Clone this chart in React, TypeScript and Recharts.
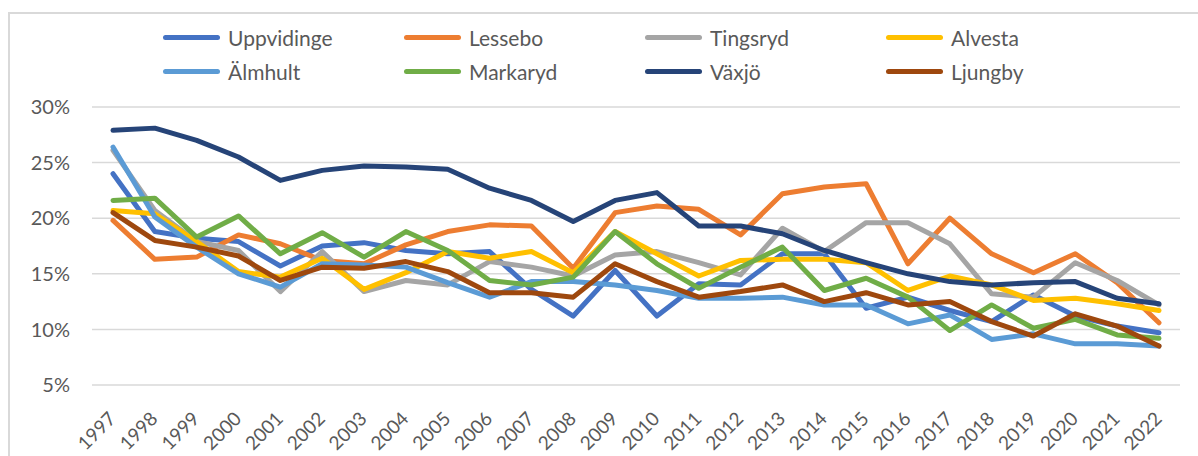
import * as React from "react"
import { LineChart, Line, XAxis, YAxis, CartesianGrid } from "recharts"

// --- data (andel i procent) ---
const years = [
  "1997", "1998", "1999", "2000", "2001", "2002", "2003", "2004", "2005", "2006", "2007", "2008", "2009",
  "2010", "2011", "2012", "2013", "2014", "2015", "2016", "2017", "2018", "2019", "2020", "2021", "2022",
]
const uppvidinge = [24.0, 18.8, 18.2, 17.9, 15.7, 17.5, 17.8, 17.1, 16.8, 17.0, 13.6, 11.2, 15.3, 11.2, 14.1, 14.0, 16.8, 16.8, 11.9, 12.9, 11.7, 10.7, 13.1, 11.2, 10.3, 9.7]
const lessebo = [19.8, 16.3, 16.5, 18.5, 17.7, 16.2, 15.9, 17.6, 18.8, 19.4, 19.3, 15.5, 20.5, 21.1, 20.8, 18.5, 22.2, 22.8, 23.1, 15.9, 20.0, 16.8, 15.1, 16.8, 14.2, 10.6]
const tingsryd = [26.1, 20.7, 17.9, 17.1, 13.4, 17.0, 13.4, 14.4, 14.0, 16.1, 15.6, 14.8, 16.7, 17.0, 16.0, 14.9, 19.1, 17.0, 19.6, 19.6, 17.7, 13.2, 12.9, 16.0, 14.4, 12.2]
const alvesta = [20.7, 20.4, 17.9, 15.2, 14.7, 16.4, 13.6, 15.1, 17.0, 16.4, 17.0, 15.1, 18.8, 16.8, 14.8, 16.2, 16.3, 16.3, 16.0, 13.5, 14.8, 14.0, 12.6, 12.8, 12.3, 11.7]
const almhult = [26.4, 20.1, 17.4, 15.0, 13.8, 15.9, 15.8, 15.6, 14.2, 12.9, 14.3, 14.3, 14.0, 13.5, 12.8, 12.8, 12.9, 12.2, 12.2, 10.5, 11.3, 9.1, 9.6, 8.7, 8.7, 8.5]
const markaryd = [21.6, 21.8, 18.3, 20.2, 16.8, 18.7, 16.5, 18.8, 17.1, 14.4, 14.0, 14.7, 18.8, 15.9, 13.7, 15.6, 17.4, 13.5, 14.6, 12.9, 9.9, 12.2, 10.1, 10.9, 9.5, 9.2]
const vaxjo = [27.9, 28.1, 27.0, 25.5, 23.4, 24.3, 24.7, 24.6, 24.4, 22.7, 21.6, 19.7, 21.6, 22.3, 19.3, 19.3, 18.6, 17.1, 16.0, 15.0, 14.3, 14.0, 14.2, 14.3, 12.8, 12.3]
const ljungby = [20.5, 18.0, 17.4, 16.6, 14.4, 15.6, 15.5, 16.1, 15.2, 13.3, 13.3, 12.9, 15.9, 14.3, 12.9, 13.4, 14.0, 12.5, 13.3, 12.2, 12.5, 10.7, 9.4, 11.4, 10.3, 8.5]
const yTicks = [5, 10, 15, 20, 25, 30]

const FONT = "Lato, 'Noto Sans', sans-serif"
const TEXT = "#595959"

const SERIES = [
  { key: "Uppvidinge", values: uppvidinge, color: "#4472C4" },
  { key: "Lessebo", values: lessebo, color: "#ED7D31" },
  { key: "Tingsryd", values: tingsryd, color: "#A5A5A5" },
  { key: "Alvesta", values: alvesta, color: "#FFC000" },
  { key: "Älmhult", values: almhult, color: "#5B9BD5" },
  { key: "Markaryd", values: markaryd, color: "#70AD47" },
  { key: "Växjö", values: vaxjo, color: "#264478" },
  { key: "Ljungby", values: ljungby, color: "#9E480E" },
]

const rows = years.map((year, i) => {
  const row: Record<string, any> = { year }
  SERIES.forEach((s) => (row[s.key] = s.values[i]))
  return row
})

// legend drawn as plain html on top of the chart, two rows of four
const LegendBox = () => (
  <div
    style={{
      position: "absolute",
      left: 163,
      top: 25,
      display: "grid",
      gridTemplateColumns: "repeat(4, 241px)",
      rowGap: 10,
      fontFamily: FONT,
    }}
  >
    {SERIES.map((s) => (
      <div key={s.key} style={{ display: "flex", alignItems: "center", height: 24 }}>
        <span style={{ display: "inline-block", width: 57, height: 5, borderRadius: 3, background: s.color }} />
        <span style={{ marginLeft: 8, fontSize: 21, color: TEXT }}>{s.key}</span>
      </div>
    ))}
  </div>
)

const YearTick = (props: any) => {
  const { x, y, payload } = props
  return (
    <text
      x={x + 4}
      y={y + 27}
      transform={`rotate(-45, ${x + 4}, ${y + 27})`}
      textAnchor="end"
      fill={TEXT}
      fontSize={19}
      fontFamily={FONT}
    >
      {payload.value}
    </text>
  )
}

export default function App() {
  return (
    <div style={{ position: "absolute", left: 0, top: 0, width: 1198, height: 456, background: "#fff", overflow: "hidden" }}>
      <div style={{ position: "absolute", left: 8, top: 12, width: 1300, height: 442, border: "2px solid #d9d9d9" }} />
      <div style={{ position: "absolute", left: 0, top: 0 }}>
        <LineChart width={1198} height={456} data={rows} margin={{ top: 107, right: 18, bottom: 0, left: 22 }}>
          <CartesianGrid vertical={false} stroke="#d9d9d9" strokeWidth={1.5} />
          <XAxis
            dataKey="year"
            axisLine={false}
            tickLine={false}
            interval={0}
            padding={{ left: 21, right: 21 }}
            tick={<YearTick />}
            height={71}
          />
          <YAxis
            type="number"
            domain={[5, 30]}
            ticks={yTicks}
            width={70}
            axisLine={false}
            tickLine={false}
            tickSize={0}
            tickMargin={22}
            tickFormatter={(v: number) => `${v}%`}
            tick={{ fill: TEXT, fontSize: 20, fontFamily: FONT }}
          />
          {SERIES.map((s) => (
            <Line
              key={s.key}
              dataKey={s.key}
              stroke={s.color}
              strokeWidth={5}
              strokeLinejoin="round"
              strokeLinecap="round"
              dot={false}
              activeDot={false}
              type="linear"
              isAnimationActive={false}
            />
          ))}
        </LineChart>
      </div>
      <LegendBox />
    </div>
  )
}
